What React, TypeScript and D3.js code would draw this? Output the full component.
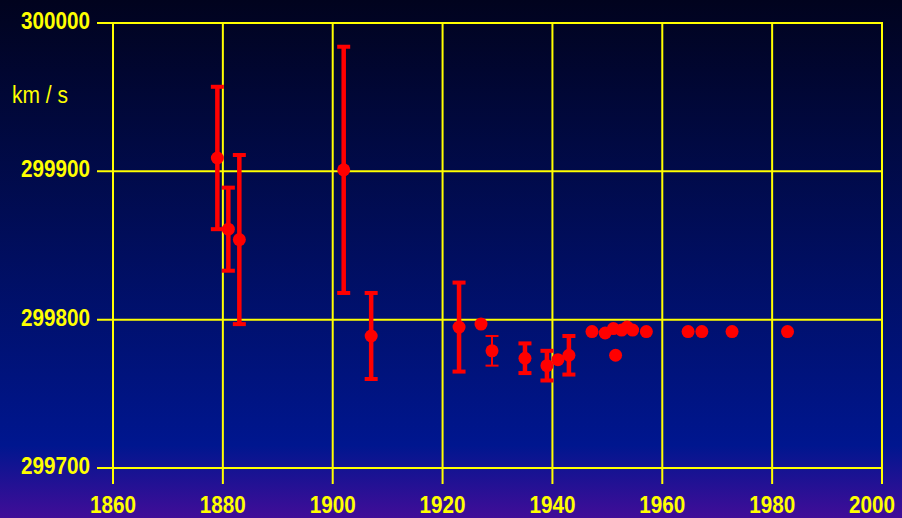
import React, { useEffect, useRef } from 'react';
import * as d3 from 'd3';

// measurements of the speed of light (km/s) with error bars (0 = no bar)
const years = [1879, 1881, 1883, 1902, 1907, 1923, 1927, 1929, 1935, 1939, 1941, 1943,
  1947.2, 1949.6, 1951.1, 1951.5, 1952.6, 1953.6, 1954.6, 1957.1, 1964.7, 1967.2, 1972.7, 1982.8];
const speeds = [299909, 299861, 299854, 299901, 299789, 299795, 299797, 299779, 299774, 299769, 299773, 299776,
  299792, 299791, 299794, 299776, 299793, 299795, 299793, 299792, 299792, 299792, 299792, 299792];
const errors = [48, 28, 57, 83, 29, 30, 0, 10, 10, 10, 0, 13,
  0, 0, 0, 0, 0, 0, 0, 0, 0, 0, 0, 0];
const xTicks = [1860, 1880, 1900, 1920, 1940, 1960, 1980, 2000];
const yTicks = [299700, 299800, 299900, 300000];
const THIN_BAR_YEAR = 1929;

const W = 902;
const H = 518;

export default function App() {
  const svgRef = useRef<SVGSVGElement>(null);

  useEffect(() => {
    if (!svgRef.current) return;
    const svg = d3.select(svgRef.current);
    svg.selectAll('*').remove();

    const x = d3.scaleLinear().domain([1860, 2000]).range([113, 882]);
    const y = d3.scaleLinear().domain([299700, 300000]).range([468, 23]);

    // background gradient
    const defs = svg.append('defs');
    const grad = defs.append('linearGradient')
      .attr('id', 'bg')
      .attr('x1', 0).attr('y1', 0).attr('x2', 0).attr('y2', 1);
    grad.append('stop').attr('offset', '0').attr('stop-color', '#01031e');
    grad.append('stop').attr('offset', '0.86').attr('stop-color', '#00168f');
    grad.append('stop').attr('offset', '1').attr('stop-color', '#410d98');
    svg.append('rect').attr('width', W).attr('height', H).attr('fill', 'url(#bg)');

    const yellow = '#ffff00';
    const font = "'Liberation Sans', Arial, sans-serif";

    // grid lines
    svg.append('g').selectAll('line.h')
      .data(yTicks).enter().append('line')
      .attr('x1', 97).attr('x2', x(2000) + 1)
      .attr('y1', d => y(d)).attr('y2', d => y(d))
      .attr('stroke', yellow).attr('stroke-width', 2);
    svg.append('g').selectAll('line.v')
      .data(xTicks).enter().append('line')
      .attr('x1', d => x(d)).attr('x2', d => x(d))
      .attr('y1', y(300000) - 1).attr('y2', 484)
      .attr('stroke', yellow).attr('stroke-width', 2);

    // tick labels (condensed to the narrow look of the original)
    svg.append('g').selectAll('text')
      .data(yTicks).enter().append('text')
      .attr('x', 90).attr('y', d => y(d) + 6)
      .attr('text-anchor', 'end')
      .attr('textLength', 69)
      .attr('lengthAdjust', 'spacingAndGlyphs')
      .attr('fill', yellow)
      .style('font-family', font)
      .style('font-weight', 'bold')
      .style('font-size', '23px')
      .text(d => String(d));
    svg.append('g').selectAll('text')
      .data(xTicks).enter().append('text')
      .attr('x', d => Math.min(x(d), W - 30) + 23).attr('y', 513)
      .attr('text-anchor', 'end')
      .attr('textLength', 46)
      .attr('lengthAdjust', 'spacingAndGlyphs')
      .attr('fill', yellow)
      .style('font-family', font)
      .style('font-weight', 'bold')
      .style('font-size', '24px')
      .text(d => String(d));

    svg.append('text')
      .attr('x', 12).attr('y', 103)
      .attr('textLength', 56)
      .attr('lengthAdjust', 'spacingAndGlyphs')
      .attr('fill', yellow)
      .style('font-family', font)
      .style('font-size', '23px')
      .text('km / s');

    // error bars
    const pts = years.map((yr, i) => ({ yr, v: speeds[i], e: errors[i] }));
    const bars = svg.append('g').selectAll('g')
      .data(pts.filter(d => d.e > 0)).enter().append('g');
    bars.append('line')
      .attr('x1', d => x(d.yr)).attr('x2', d => x(d.yr))
      .attr('y1', d => y(d.v + d.e)).attr('y2', d => y(d.v - d.e))
      .attr('stroke', '#ff0000')
      .attr('stroke-width', d => (d.yr === THIN_BAR_YEAR ? 2 : 4.5));
    [1, -1].forEach(s => {
      bars.append('rect')
        .attr('x', d => x(d.yr) - 6.5)
        .attr('y', d => y(d.v + s * d.e) - (d.yr === THIN_BAR_YEAR ? 1 : 2))
        .attr('width', 13)
        .attr('height', d => (d.yr === THIN_BAR_YEAR ? 2 : 4))
        .attr('fill', '#ff0000');
    });

    // points
    svg.append('g').selectAll('circle')
      .data(pts).enter().append('circle')
      .attr('cx', d => x(d.yr))
      .attr('cy', d => y(d.v))
      .attr('r', 6.5)
      .attr('fill', '#ff0000');
  }, []);

  return (
    <div style={{ position: 'absolute', left: 0, top: 0 }}>
      <svg ref={svgRef} width={W} height={H} style={{ display: 'block' }}></svg>
    </div>
  );
}
